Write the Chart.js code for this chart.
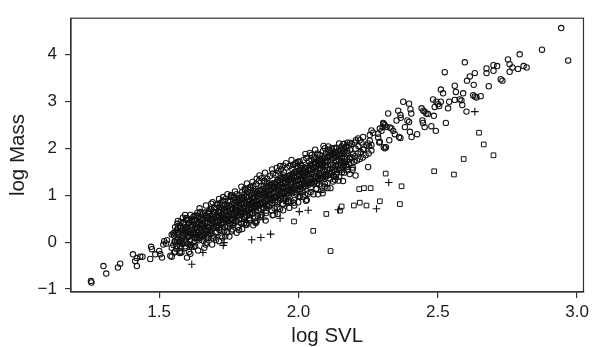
<!DOCTYPE html>
<html>
<head>
<meta charset="utf-8">
<script src="https://cdn.jsdelivr.net/npm/chart.js@4/dist/chart.umd.min.js"></script>
<style>
  body { margin: 0; background: #fff; }
  #wrap { width: 593px; height: 347px; }
</style>
</head>
<body>
<div id="wrap"><canvas id="svlChart" width="593" height="347"></canvas></div>
<script>
// ---- data (log SVL, log Mass) ----
const circlePts = [
  // lower-left tail
  [1.255,-0.83],[1.257,-0.86],[1.300,-0.51],[1.310,-0.67],[1.352,-0.54],[1.360,-0.46],
  [1.406,-0.26],[1.414,-0.40],[1.420,-0.51],[1.432,-0.31],[1.440,-0.31],[1.420,-0.34],
  [1.468,-0.36],[1.474,-0.15],[1.471,-0.10],[1.486,-0.26],[1.504,-0.26],[1.510,-0.33],
  [1.500,-0.19],[1.515,-0.05],[1.525,-0.03],[1.518,0.02],[1.528,0.04],[1.540,-0.29],
  [1.545,-0.31],[1.545,-0.12],[1.557,-0.20],[1.563,0.04],[1.575,-0.20],[1.580,-0.22],
  [1.600,-0.33],[1.585,0.125],[1.593,0.23],[1.596,0.47],[1.600,0.51],[1.545,0.16],
  [1.563,0.26],[1.575,-0.01],[1.629,-0.08],[1.629,0.09],[1.670,-0.01],[1.677,0.09],
  [1.737,0.125],[1.760,0.23],[1.766,0.37],[1.814,0.37],[1.826,0.47],[1.844,0.44],
  [1.623,0.54],[1.593,0.58],[1.575,0.30],[1.551,0.19],
  // dense band, first pass
  [1.551,-0.06],[1.553,0.14],[1.556,0.02],
  [1.561,-0.14],[1.562,0.20],[1.566,0.07],[1.568,0.31],
  [1.571,0.01],[1.572,0.18],[1.575,-0.08],[1.577,0.35],
  [1.581,0.09],[1.583,0.24],[1.585,-0.02],[1.587,0.40],[1.589,0.16],
  [1.591,0.05],[1.592,0.27],[1.594,-0.12],[1.596,0.19],[1.598,0.33],
  [1.600,0.10],[1.602,0.28],[1.604,-0.04],[1.606,0.22],[1.608,0.41],[1.609,0.14],
  [1.611,0.03],[1.612,0.33],[1.614,0.18],[1.616,-0.10],[1.617,0.26],[1.619,0.45],
  [1.620,0.12],[1.622,0.36],[1.624,0.21],[1.626,0.00],[1.628,0.29],[1.629,0.48],
  [1.631,0.17],[1.632,0.38],[1.634,0.25],[1.636,0.05],[1.637,0.31],[1.639,0.55],
  [1.640,0.22],[1.642,0.43],[1.643,0.09],[1.645,0.30],[1.647,0.14],[1.648,0.50],[1.649,0.36],
  [1.650,0.27],[1.652,0.46],[1.653,0.12],[1.655,0.35],[1.657,0.20],[1.658,0.62],[1.659,0.03],
  [1.660,0.31],[1.662,0.49],[1.663,0.18],[1.665,0.40],[1.667,0.25],[1.668,0.56],[1.669,0.08],
  [1.670,0.33],[1.671,0.52],[1.673,0.22],[1.675,0.43],[1.676,0.14],[1.678,0.66],[1.679,0.30],
  [1.680,0.37],[1.682,0.55],[1.683,0.26],[1.685,0.47],[1.686,0.18],[1.688,0.70],[1.689,0.41],
  [1.690,0.39],[1.692,0.59],[1.693,0.29],[1.695,0.50],[1.697,0.12],[1.698,0.74],[1.699,0.45],
  [1.700,0.42],[1.701,0.62],[1.703,0.33],[1.705,0.53],[1.706,0.22],[1.708,0.80],[1.709,0.47],[1.704,0.05],
  [1.710,0.44],[1.712,0.65],[1.713,0.36],[1.715,0.56],[1.716,0.26],[1.718,0.83],[1.719,0.50],
  [1.720,0.46],[1.721,0.68],[1.723,0.39],[1.725,0.59],[1.726,0.29],[1.728,0.88],[1.729,0.53],[1.724,0.13],
  [1.730,0.49],[1.732,0.71],[1.733,0.42],[1.735,0.62],[1.736,0.32],[1.738,0.92],[1.739,0.56],
  [1.740,0.51],[1.742,0.74],[1.743,0.45],[1.745,0.65],[1.746,0.35],[1.748,0.86],[1.749,0.59],[1.744,0.21],
  [1.750,0.54],[1.751,0.77],[1.753,0.48],[1.755,0.68],[1.756,0.38],[1.758,0.97],[1.759,0.62],
  [1.760,0.57],[1.762,0.80],[1.763,0.51],[1.765,0.71],[1.766,0.41],[1.768,0.94],[1.769,0.65],[1.764,0.27],
  [1.770,0.59],[1.771,0.83],[1.773,0.54],[1.775,0.74],[1.776,0.44],[1.778,1.02],[1.779,0.68],
  [1.780,0.62],[1.782,0.86],[1.783,0.57],[1.785,0.77],[1.786,0.47],[1.788,1.00],[1.789,0.71],[1.784,0.33],
  [1.790,0.64],[1.791,0.89],[1.793,0.60],[1.795,0.80],[1.796,0.50],[1.798,1.07],[1.799,0.74],
  [1.800,0.67],[1.802,0.92],[1.803,0.63],[1.805,0.83],[1.806,0.53],[1.808,1.10],[1.809,0.77],[1.804,0.40],
  [1.810,0.70],[1.811,0.95],[1.813,0.66],[1.815,0.86],[1.816,0.56],[1.818,1.14],[1.819,0.80],
  [1.820,0.72],[1.822,0.98],[1.823,0.69],[1.825,0.89],[1.826,0.59],[1.828,1.17],[1.829,0.83],[1.824,0.47],
  [1.830,0.75],[1.831,1.01],[1.833,0.72],[1.835,0.92],[1.836,0.62],[1.838,1.20],[1.839,0.86],
  [1.840,0.77],[1.842,1.04],[1.843,0.75],[1.845,0.95],[1.846,0.65],[1.848,1.24],[1.849,0.89],[1.844,0.51],
  [1.850,0.80],[1.851,1.07],[1.853,0.78],[1.855,0.98],[1.856,0.68],[1.858,1.30],[1.859,0.92],
  [1.860,0.83],[1.862,1.10],[1.863,0.81],[1.865,1.01],[1.866,0.71],[1.868,1.36],[1.869,0.95],[1.864,0.57],
  [1.870,0.85],[1.871,1.13],[1.873,0.84],[1.875,1.04],[1.876,0.74],[1.878,1.30],[1.879,0.98],
  [1.880,0.88],[1.882,1.16],[1.883,0.87],[1.885,1.07],[1.886,0.77],[1.888,1.35],[1.889,1.01],[1.884,0.62],
  [1.890,0.90],[1.891,1.19],[1.893,0.90],[1.895,1.10],[1.896,0.80],[1.898,1.41],[1.899,1.04],
  [1.900,0.93],[1.902,1.22],[1.903,0.93],[1.905,1.13],[1.906,0.83],[1.908,1.46],[1.909,1.07],[1.904,0.68],
  [1.910,0.96],[1.911,1.25],[1.913,0.96],[1.915,1.16],[1.916,0.86],[1.918,1.43],[1.919,1.10],
  [1.920,0.98],[1.922,1.28],[1.923,0.99],[1.925,1.19],[1.926,0.89],[1.928,1.51],[1.929,1.13],[1.924,0.74],
  [1.930,1.01],[1.931,1.31],[1.933,1.02],[1.935,1.22],[1.936,0.92],[1.938,1.55],[1.939,1.16],
  [1.940,1.03],[1.942,1.34],[1.943,1.05],[1.945,1.25],[1.946,0.95],[1.948,1.49],[1.949,1.19],[1.944,0.80],
  [1.950,1.06],[1.951,1.37],[1.953,1.08],[1.955,1.28],[1.956,0.98],[1.958,1.59],[1.959,1.22],
  [1.960,1.09],[1.962,1.40],[1.963,1.11],[1.965,1.31],[1.966,1.01],[1.968,1.62],[1.969,1.25],[1.964,0.86],
  [1.970,1.11],[1.971,1.43],[1.973,1.14],[1.975,1.34],[1.976,1.04],[1.978,1.56],[1.979,1.28],
  [1.980,1.14],[1.982,1.46],[1.983,1.17],[1.985,1.37],[1.986,1.07],[1.988,1.67],[1.989,1.31],[1.984,0.90],
  [1.990,1.16],[1.991,1.49],[1.993,1.20],[1.995,1.40],[1.996,1.10],[1.998,1.71],[1.999,1.34],
  [2.000,1.19],[2.002,1.52],[2.003,1.23],[2.005,1.43],[2.006,1.13],[2.008,1.64],[2.009,1.37],[2.004,0.96],
  [2.010,1.22],[2.011,1.55],[2.013,1.26],[2.015,1.46],[2.016,1.16],[2.018,1.75],[2.019,1.40],
  [2.020,1.24],[2.022,1.58],[2.023,1.29],[2.025,1.49],[2.026,1.19],[2.028,1.79],[2.029,1.43],[2.024,1.01],
  [2.030,1.27],[2.031,1.61],[2.033,1.32],[2.035,1.52],[2.036,1.22],[2.038,1.73],[2.039,1.46],
  [2.040,1.29],[2.042,1.64],[2.043,1.35],[2.045,1.55],[2.046,1.25],[2.048,1.86],[2.049,1.49],[2.044,1.07],
  [2.050,1.32],[2.051,1.67],[2.053,1.38],[2.055,1.58],[2.056,1.28],[2.058,1.81],[2.059,1.52],
  [2.060,1.35],[2.062,1.70],[2.063,1.41],[2.065,1.61],[2.066,1.31],[2.068,1.89],[2.069,1.55],[2.064,1.13],
  [2.070,1.37],[2.071,1.73],[2.073,1.44],[2.075,1.64],[2.076,1.34],[2.078,1.85],[2.079,1.58],
  [2.080,1.40],[2.082,1.76],[2.083,1.47],[2.085,1.67],[2.086,1.37],[2.088,1.94],[2.089,1.61],[2.084,1.19],
  [2.090,1.42],[2.091,1.79],[2.093,1.50],[2.095,1.70],[2.096,1.40],[2.098,1.89],[2.099,1.64],
  [2.100,1.45],[2.102,1.82],[2.103,1.53],[2.105,1.73],[2.106,1.43],[2.108,1.97],[2.104,1.26],
  [2.110,1.48],[2.111,1.85],[2.113,1.56],[2.115,1.76],[2.116,1.46],[2.118,1.93],
  [2.120,1.50],[2.122,1.88],[2.123,1.59],[2.125,1.79],[2.126,1.41],[2.128,2.00],
  [2.130,1.53],[2.131,1.91],[2.133,1.62],[2.135,1.82],[2.136,1.45],
  [2.140,1.55],[2.142,1.94],[2.143,1.65],[2.145,1.85],[2.146,1.39],
  [2.150,1.58],[2.151,1.97],[2.153,1.68],[2.155,1.88],[2.156,1.49],
  [2.160,1.61],[2.162,2.00],[2.163,1.71],[2.165,1.91],
  [2.170,1.63],[2.171,2.03],[2.173,1.74],[2.175,1.94],[2.176,1.53],
  [2.180,1.66],[2.182,2.06],[2.183,1.77],[2.185,1.97],
  [2.190,1.68],[2.191,2.09],[2.193,1.80],[2.195,1.59],
  [2.200,1.71],[2.202,2.12],[2.203,1.83],[2.205,1.99],
  [2.210,1.74],[2.213,1.89],[2.215,2.05],
  [2.220,1.77],[2.223,1.92],[2.226,2.12],
  [2.231,1.80],[2.234,1.97],[2.241,1.85],[2.245,2.06],[2.252,1.89],[2.256,2.16],
  // dense band, second pass (fills between the first)
  [1.554,-0.22],[1.556,0.00],[1.555,0.20],[1.557,0.32],
  [1.564,-0.08],[1.566,0.21],[1.565,0.39],[1.567,0.45],
  [1.574,-0.23],[1.576,0.04],[1.575,0.34],[1.577,0.43],
  [1.584,-0.04],[1.586,0.20],[1.585,0.29],[1.587,0.41],
  [1.594,-0.09],[1.596,0.03],[1.595,0.27],[1.597,0.51],
  [1.604,0.11],[1.606,0.40],[1.605,0.47],[1.607,-0.21],
  [1.614,-0.06],[1.616,0.16],[1.615,0.36],[1.617,0.48],
  [1.624,-0.10],[1.626,0.17],[1.625,0.47],[1.627,0.56],
  [1.634,0.10],[1.636,0.39],[1.635,0.57],[1.637,0.62],
  [1.644,0.04],[1.646,0.16],[1.645,0.40],[1.647,0.64],
  [1.654,0.14],[1.656,0.38],[1.655,0.47],[1.657,0.59],
  [1.664,0.27],[1.666,0.56],[1.665,0.63],[1.667,-0.05],
  [1.674,0.09],[1.676,0.31],[1.675,0.51],[1.677,0.63],
  [1.684,0.23],[1.686,0.52],[1.685,0.70],[1.687,0.82],
  [1.694,0.08],[1.696,0.35],[1.695,0.65],[1.697,0.74],
  [1.704,0.20],[1.706,0.32],[1.705,0.56],[1.707,0.80],
  [1.714,0.30],[1.716,0.54],[1.715,0.63],[1.717,0.75],
  [1.724,0.42],[1.726,0.71],[1.725,0.78],[1.727,0.10],
  [1.734,0.25],[1.736,0.47],[1.735,0.67],[1.737,0.79],
  [1.744,0.21],[1.746,0.48],[1.745,0.78],[1.747,0.87],
  [1.754,0.41],[1.756,0.70],[1.755,0.88],[1.757,1.00],
  [1.764,0.36],[1.766,0.48],[1.765,0.72],[1.767,0.96],
  [1.774,0.45],[1.776,0.69],[1.775,0.78],[1.777,0.90],
  [1.784,0.58],[1.786,0.87],[1.785,0.94],[1.787,0.26],
  [1.794,0.40],[1.796,0.62],[1.795,0.82],[1.797,0.94],
  [1.804,0.54],[1.806,0.83],[1.805,1.01],[1.807,1.13],
  [1.814,0.40],[1.816,0.67],[1.815,0.97],[1.817,1.06],
  [1.824,0.51],[1.826,0.63],[1.825,0.87],[1.827,1.11],
  [1.834,0.61],[1.836,0.85],[1.835,0.94],[1.837,1.06],
  [1.844,0.73],[1.846,1.02],[1.845,1.09],[1.847,0.41],
  [1.854,0.56],[1.856,0.78],[1.855,0.98],[1.857,1.10],
  [1.864,0.53],[1.866,0.80],[1.865,1.10],[1.867,1.19],
  [1.874,0.72],[1.876,1.01],[1.875,1.19],[1.877,1.31],
  [1.884,0.67],[1.886,0.79],[1.885,1.03],[1.887,1.27],
  [1.894,0.76],[1.896,1.00],[1.895,1.09],[1.897,1.21],
  [1.904,0.89],[1.906,1.18],[1.905,1.25],[1.907,0.57],
  [1.914,0.72],[1.916,0.94],[1.915,1.14],[1.917,1.26],
  [1.924,0.85],[1.926,1.14],[1.925,1.32],[1.927,1.44],
  [1.934,0.71],[1.936,0.98],[1.935,1.28],[1.937,1.37],
  [1.944,0.82],[1.946,0.94],[1.945,1.18],[1.947,1.42],
  [1.954,0.92],[1.956,1.16],[1.955,1.25],[1.957,1.37],
  [1.964,1.05],[1.966,1.34],[1.965,1.41],[1.967,0.73],
  [1.974,0.87],[1.976,1.09],[1.975,1.29],[1.977,1.41],
  [1.984,0.84],[1.986,1.11],[1.985,1.41],[1.987,1.50],
  [1.994,1.03],[1.996,1.32],[1.995,1.50],[1.997,1.62],
  [2.004,0.98],[2.006,1.10],[2.005,1.34],[2.007,1.58],
  [2.014,1.08],[2.016,1.32],[2.015,1.41],[2.017,1.53],
  [2.024,1.20],[2.026,1.49],[2.025,1.56],[2.027,0.88],
  [2.034,1.03],[2.036,1.25],[2.035,1.45],[2.037,1.57],
  [2.044,1.16],[2.046,1.45],[2.045,1.63],[2.047,1.75],
  [2.054,1.02],[2.056,1.29],[2.055,1.59],[2.057,1.68],
  [2.064,1.14],[2.066,1.26],[2.065,1.50],[2.067,1.74],
  [2.074,1.23],[2.076,1.47],[2.075,1.56],[2.077,1.68],
  [2.084,1.36],[2.086,1.65],[2.085,1.72],[2.087,1.04],
  [2.094,1.18],[2.096,1.40],[2.095,1.60],[2.097,1.72],
  [2.104,1.15],[2.106,1.42],[2.105,1.72],[2.107,1.81],
  [2.114,1.35],[2.116,1.64],[2.115,1.82],
  [2.124,1.29],[2.126,1.41],[2.125,1.65],[2.127,1.89],
  [2.134,1.39],[2.136,1.63],[2.135,1.72],
  [2.144,1.31],[2.146,1.53],[2.145,1.73],
  [2.154,1.54],[2.156,1.83],[2.155,1.90],
  [2.164,1.48],[2.166,1.77],[2.165,1.95],
  [2.174,1.60],[2.176,1.90],
  [2.184,1.45],[2.186,1.81],
  [2.194,1.54],[2.196,1.87],
  // ragged edges of band
  [1.730,0.96],[1.760,1.00],[1.826,1.17],[1.850,1.35],[1.860,1.42],[1.850,0.44],
  [1.868,0.58],[1.808,0.54],[1.810,0.37],[1.910,0.58],[1.963,0.85],[1.999,0.85],
  [2.017,0.96],[1.946,1.63],[1.934,1.62],[1.922,1.58],[2.004,1.72],[1.992,1.69],
  [1.981,1.65],[2.011,1.62],[2.071,1.86],[2.077,1.76],[2.056,1.76],[2.113,1.90],
  [2.123,1.86],[2.131,1.84],[2.143,1.77],[2.155,1.72],[2.167,1.69],
  [1.585,0.52],[1.612,0.58],[1.645,0.72],[1.668,0.78],[1.692,0.85],[1.715,0.92],
  [1.745,1.02],[1.772,1.08],[1.795,1.18],[1.815,1.25],[1.835,1.28],[1.880,1.48],
  [1.905,1.55],[1.955,1.68],[1.975,1.75],[2.025,1.88],[2.060,1.97],[2.090,2.05],
  [1.612,-0.25],[1.640,-0.18],[1.662,-0.12],[1.690,-0.05],[1.715,0.02],[1.752,0.12],
  [1.778,0.20],[1.798,0.28],[1.838,0.36],[1.882,0.46],[1.925,0.60],[1.945,0.68],
  [1.985,0.78],[2.030,0.90],[2.070,1.02],[2.115,1.15],[2.160,1.30],[2.205,1.42],
  // upper-right tail
  [2.943,4.56],[2.874,4.10],[2.968,3.87],[2.794,4.00],[2.752,3.89],[2.758,3.79],
  [2.768,3.72],[2.788,3.69],[2.808,3.75],[2.819,3.72],[2.758,3.63],[2.700,3.77],
  [2.713,3.75],[2.675,3.70],[2.675,3.60],[2.700,3.65],[2.726,3.47],[2.732,3.44],
  [2.597,3.83],[2.525,3.62],[2.633,3.60],[2.615,3.53],[2.605,3.44],[2.629,3.35],
  [2.683,3.32],[2.561,3.33],[2.511,3.25],[2.519,3.17],[2.565,3.20],[2.591,3.17],
  [2.627,3.13],[2.633,3.10],[2.639,3.08],[2.654,3.11],[2.561,3.03],[2.579,3.04],
  [2.585,3.02],[2.541,2.99],[2.588,2.92],[2.537,2.85],[2.603,2.78],[2.483,3.04],
  [2.495,2.99],[2.501,2.94],[2.505,2.90],[2.489,2.88],[2.511,2.99],[2.442,2.85],
  [2.448,2.80],[2.453,2.78],[2.459,2.74],[2.465,2.73],[2.486,2.69],[2.376,2.99],
  [2.397,2.95],[2.402,2.83],[2.405,2.74],[2.358,2.80],[2.366,2.71],[2.352,2.59],
  [2.367,2.65],[2.322,2.74],[2.391,2.59],[2.397,2.56],[2.445,2.59],[2.447,2.54],
  [2.453,2.45],[2.477,2.47],[2.493,2.37],[2.529,2.54],[2.382,2.45],[2.400,2.35],
  [2.406,2.24],[2.426,2.30],[2.306,2.52],[2.316,2.45],[2.328,2.44],[2.340,2.37],
  [2.334,2.42],[2.292,2.42],[2.298,2.37],[2.346,2.30],[2.366,2.22],[2.326,2.17],
  [2.310,2.00],[2.292,2.14],[2.286,2.31],[2.262,2.38],[2.268,2.33],[2.256,2.28],
  [2.286,2.23],[2.232,2.24],[2.214,2.21],[2.220,2.17],[2.206,2.17],[2.250,2.10],
  [2.262,2.07],[2.290,2.12],[2.306,2.02],[2.361,2.24],[2.185,2.12],[2.161,2.09],
  [2.155,2.04],[2.137,2.00],[2.119,2.00],[2.232,1.98],[2.254,2.04],[2.262,1.95],
  [2.314,2.02],[2.250,1.60],[2.131,1.33],[2.095,1.24],[2.041,1.90],[2.095,2.00],
  [2.107,2.04],[2.134,2.01],[2.146,2.10],[2.163,2.09],[2.175,2.12],[2.304,2.54],
  [2.310,2.49],[2.302,2.45]
];

const crossPts = [
  [1.617,-0.47],[1.657,-0.22],[1.730,-0.07],[1.733,-0.01],[1.832,0.05],[1.865,0.10],
  [1.900,0.17],[1.874,0.49],[1.934,0.51],[1.924,0.65],[1.958,0.82],[2.003,0.65],
  [2.035,0.68],[2.080,1.06],[2.143,0.69],[2.280,0.71],[2.324,1.27],[2.633,2.78]
];

const squarePts = [
  [2.665,2.08],[2.648,2.33],[2.700,1.85],[2.593,1.77],[2.487,1.51],[2.558,1.44],
  [2.313,1.46],[2.370,1.19],[2.218,1.13],[2.235,1.15],[2.259,1.15],[2.155,0.76],
  [2.149,0.67],[2.199,0.78],[2.220,0.84],[2.244,0.78],[2.292,0.87],[2.364,0.81],
  [2.115,-0.19],[1.984,0.44],[2.053,0.24],[2.100,0.60]
];

const xTicks = [1.5, 2.0, 2.5, 3.0];
const yTicks = [-1, 0, 1, 2, 3, 4];

const toXY = pts => pts.map(p => ({ x: p[0], y: p[1] }));

const ink = '#111';
const tickFont = { family: 'Liberation Sans, Arial, sans-serif', size: 17 };
const titleFont = { family: 'Liberation Sans, Arial, sans-serif', size: 20.5, lineHeight: 1 };

// full box around the plot area, like R's box()
const boxPlugin = {
  id: 'box',
  afterDraw(chart) {
    const a = chart.chartArea;
    const ctx = chart.ctx;
    ctx.save();
    ctx.strokeStyle = '#333';
    ctx.lineWidth = 1.2;
    ctx.strokeRect(a.left, a.top, a.right - a.left, a.bottom - a.top);
    ctx.restore();
  }
};

const ctx = document.getElementById('svlChart').getContext('2d');
new Chart(ctx, {
  type: 'scatter',
  data: {
    datasets: [
      {
        label: 'circles',
        data: toXY(circlePts),
        pointStyle: 'circle',
        pointRadius: 2.7,
        pointBorderWidth: 1.05,
        pointBorderColor: ink,
        pointBackgroundColor: 'rgba(0,0,0,0)'
      },
      {
        label: 'crosses',
        data: toXY(crossPts),
        pointStyle: 'cross',
        pointRadius: 3.8,
        pointBorderWidth: 1.1,
        pointBorderColor: ink
      },
      {
        label: 'squares',
        data: toXY(squarePts),
        pointStyle: 'rect',
        pointRadius: 3.3,
        pointBorderWidth: 1,
        pointBorderColor: ink,
        pointBackgroundColor: 'rgba(0,0,0,0)'
      }
    ]
  },
  options: {
    responsive: false,
    animation: false,
    devicePixelRatio: 1,
    layout: { padding: { top: 12, right: 9, left: 0, bottom: 0 } },
    plugins: {
      legend: { display: false },
      tooltip: { enabled: false }
    },
    scales: {
      x: {
        type: 'linear',
        min: 1.1835,
        max: 3.023,
        afterBuildTicks: scale => { scale.ticks = xTicks.map(v => ({ value: v })); },
        afterFit: scale => { scale.height = 55; },
        ticks: {
          color: '#1c1c1c',
          font: tickFont,
          padding: 4,
          maxRotation: 0,
          callback: v => v.toFixed(1)
        },
        grid: { drawOnChartArea: false, drawTicks: true, tickLength: 6, color: '#333', lineWidth: 1.2 },
        border: { display: true, color: '#333', width: 1.2 },
        title: { display: true, text: 'log SVL', color: '#1c1c1c', font: titleFont, padding: { top: 0, bottom: 0 } }
      },
      y: {
        type: 'linear',
        min: -1.0625,
        max: 4.77,
        afterBuildTicks: scale => { scale.ticks = yTicks.map(v => ({ value: v })); },
        afterFit: scale => { scale.width = 71; },
        ticks: {
          color: '#1c1c1c',
          font: tickFont,
          padding: 8,
          callback: v => (v < 0 ? '\u2212' + Math.abs(v) : String(v))
        },
        grid: { drawOnChartArea: false, drawTicks: true, tickLength: 6, color: '#333', lineWidth: 1.2 },
        border: { display: true, color: '#333', width: 1.2 },
        title: { display: true, text: 'log Mass', color: '#1c1c1c', font: titleFont, padding: { top: 8, bottom: 0 } }
      }
    }
  },
  plugins: [boxPlugin]
});
</script>
</body>
</html>
